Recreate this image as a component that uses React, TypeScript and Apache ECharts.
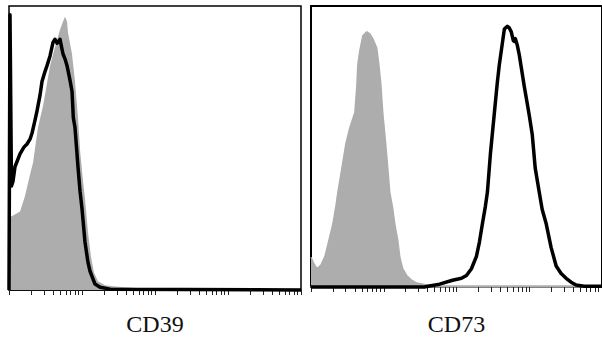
import React, { useEffect, useRef } from "react";
import * as echarts from "echarts";

// x values are in log10 decades of fluorescence (0 = 10^0 ... 4 = 10^4); y = relative cell count (% of max)
const cd39IsotypeX = [0, 0.055, 0.151, 0.219, 0.288, 0.329, 0.397, 0.466, 0.521, 0.562, 0.63, 0.699, 0.74, 0.767, 0.795, 0.808, 0.863, 0.904, 0.945, 0.973, 1.014, 1.041, 1.082, 1.123, 1.164, 1.219, 1.315, 1.452, 1.658, 2.0, 2.205, 4.0];
const cd39IsotypeY = [25.5, 26.2, 27.6, 33.1, 40.7, 44.8, 57.2, 64.8, 72.8, 79.0, 85.5, 91.7, 94.5, 96.2, 94.5, 90.7, 83.1, 73.4, 60.7, 49.3, 38.3, 32.1, 20.3, 11.7, 6.2, 3.1, 1.7, 1.2, 0.9, 0.3, 0, 0];

const cd39StainX = [0, 0.0137, 0.034, 0.055, 0.082, 0.151, 0.205, 0.247, 0.288, 0.315, 0.356, 0.384, 0.425, 0.452, 0.493, 0.521, 0.562, 0.603, 0.63, 0.658, 0.671, 0.699, 0.712, 0.74, 0.767, 0.795, 0.836, 0.863, 0.881, 0.904, 0.945, 0.973, 1.0, 1.041, 1.082, 1.11, 1.178, 1.247, 1.384, 4.0];
const cd39StainY = [0, 96.9, 36.6, 38.3, 43.4, 47.9, 50.3, 51.4, 53.1, 55.2, 59.7, 63.1, 68.6, 73.4, 76.9, 79.0, 82.4, 87.2, 88.3, 86.9, 87.2, 88.3, 86.6, 83.1, 81.4, 79.0, 73.8, 70.0, 60.7, 57.2, 43.4, 34.8, 28.6, 16.9, 9.7, 6.6, 2.1, 1.0, 0.3, 0];

const cd73IsotypeX = [0, 0.041, 0.082, 0.137, 0.192, 0.247, 0.301, 0.342, 0.37, 0.425, 0.479, 0.534, 0.603, 0.63, 0.644, 0.671, 0.712, 0.767, 0.808, 0.849, 0.904, 0.932, 0.959, 0.986, 1.027, 1.055, 1.082, 1.123, 1.151, 1.192, 1.219, 1.26, 1.315, 1.384, 1.452, 1.589, 1.767, 3.658, 3.753];
const cd73IsotypeY = [10.6, 8.2, 6.5, 7.8, 10.9, 16.7, 22.5, 28.7, 33.8, 42.3, 50.9, 56.7, 62.1, 71.3, 79.2, 84.0, 89.4, 90.8, 90.1, 88.4, 85.0, 79.2, 72.4, 62.1, 50.9, 42.3, 33.8, 28.0, 22.5, 16.7, 10.9, 6.5, 4.1, 2.4, 1.4, 0.7, 0.4, 0.4, 0];

const cd73StainX = [0, 1.562, 1.589, 1.767, 1.945, 2.068, 2.137, 2.205, 2.274, 2.315, 2.356, 2.397, 2.425, 2.466, 2.521, 2.562, 2.589, 2.63, 2.658, 2.699, 2.726, 2.753, 2.781, 2.795, 2.808, 2.836, 2.863, 2.89, 2.932, 2.973, 3.0, 3.041, 3.082, 3.137, 3.178, 3.233, 3.301, 3.37, 3.438, 3.507, 3.575, 3.644, 3.753, 4.0];
const cd73StainY = [0, 0, 0.2, 1.0, 2.4, 3.1, 4.1, 6.5, 10.9, 16.0, 22.5, 28.7, 33.8, 47.4, 62.1, 73.0, 79.2, 86.7, 91.8, 92.8, 92.2, 90.8, 87.7, 87.4, 88.4, 86.0, 82.6, 78.2, 71.3, 65.2, 61.1, 54.3, 42.3, 33.8, 27.6, 22.5, 14.0, 7.5, 4.8, 3.1, 1.7, 0.7, 0.3, 0.3];

const axisTitles = ["CD39", "CD73"];
const decades = [0, 1, 2, 3];
const multipliers = [1, 2, 3, 4, 5, 6, 7, 8, 9];

const GRAY = "#adadad";
const SERIF = "'Liberation Serif', 'Times New Roman', Times, serif";

function pairs(xs: number[], ys: number[]) {
  return xs.map((x, i) => [x, ys[i]]);
}

export default function App() {
  const ref = useRef<HTMLDivElement>(null);
  useEffect(() => {
    if (!ref.current) return;
    const chart = echarts.init(ref.current, undefined, { renderer: "svg" });
    const tickValues: number[] = [];
    decades.forEach((d) => multipliers.forEach((m) => tickValues.push(d + Math.log10(m))));
    tickValues.push(4);

    const xAxisBase = (gridIndex: number, axisColor: string, nameGap: number) => ({
      type: "value",
      gridIndex,
      min: 0,
      max: 4,
      name: axisTitles[gridIndex],
      nameLocation: "middle",
      nameGap,
      nameTextStyle: { fontFamily: SERIF, fontSize: 24, color: "#111" },
      axisLine: { show: true, lineStyle: { color: axisColor, width: 1.5 } },
      axisTick: {
        show: true,
        inside: false,
        length: 5,
        customValues: tickValues,
        lineStyle: { color: "#222", width: 1 },
      },
      axisLabel: { show: false },
      splitLine: { show: false },
    });

    chart.setOption({
      animation: false,
      backgroundColor: "#fff",
      textStyle: { fontFamily: SERIF },
      grid: [
        { left: 9, top: 6, width: 292, height: 290, show: true, borderColor: "#000", borderWidth: 1.5, backgroundColor: "#fff" },
        { left: 311, top: 6, width: 292, height: 293, show: true, borderColor: "#000", borderWidth: 2, backgroundColor: "#fff" },
      ],
      xAxis: [xAxisBase(0, "#000", 22), xAxisBase(1, GRAY, 25)],
      yAxis: [
        { type: "value", gridIndex: 0, min: 0, max: 100, show: false },
        { type: "value", gridIndex: 1, min: 0, max: 100, show: false },
      ],
      series: [
        {
          type: "line",
          xAxisIndex: 0,
          yAxisIndex: 0,
          data: pairs(cd39IsotypeX, cd39IsotypeY),
          showSymbol: false,
          lineStyle: { width: 0, color: GRAY },
          areaStyle: { color: GRAY, opacity: 1 },
          z: 2,
        },
        {
          type: "line",
          xAxisIndex: 0,
          yAxisIndex: 0,
          data: pairs(cd39StainX, cd39StainY),
          showSymbol: false,
          clip: false,
          lineStyle: { width: 3.5, color: "#000", join: "round" },
          z: 3,
        },
        {
          type: "line",
          xAxisIndex: 1,
          yAxisIndex: 1,
          data: pairs(cd73IsotypeX, cd73IsotypeY),
          showSymbol: false,
          lineStyle: { width: 1.5, color: GRAY },
          areaStyle: { color: GRAY, opacity: 1 },
          z: 2,
        },
        {
          type: "line",
          xAxisIndex: 1,
          yAxisIndex: 1,
          data: pairs(cd73StainX, cd73StainY),
          showSymbol: false,
          clip: false,
          lineStyle: { width: 3.5, color: "#000", join: "round" },
          z: 3,
        },
      ],
    });
    return () => chart.dispose();
  }, []);
  return (
    <div
      ref={ref}
      style={{ position: "fixed", left: 0, top: 0, width: 602, height: 341, background: "#fff" }}
    />
  );
}
